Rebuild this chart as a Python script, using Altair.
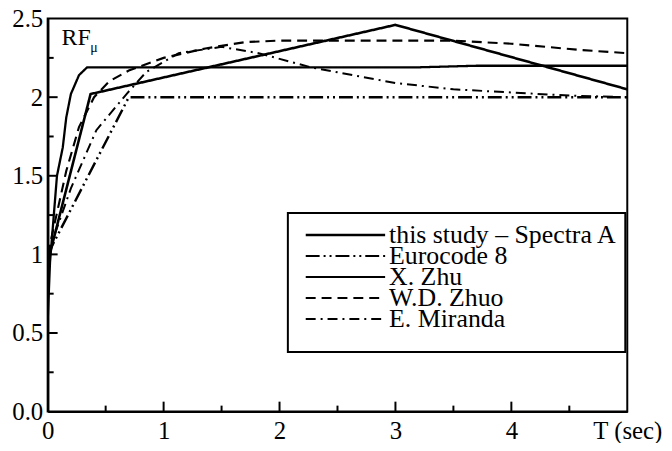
import altair as alt
import pandas as pd

# ---------------- data ----------------
series_names = ["this study \u2013 Spectra A", "Eurocode 8", "X. Zhu", "W.D. Zhuo", "E. Miranda"]

T_study = [0.0, 0.37, 3.0, 5.0]
RF_study = [0.95, 2.02, 2.46, 2.05]

T_ec8 = [0.0, 0.70, 5.0]
RF_ec8 = [1.0, 2.0, 2.0]

T_zhu = [0.0, 0.02, 0.08, 0.13, 0.16, 0.20, 0.27, 0.34, 3.2, 3.7, 5.0]
RF_zhu = [0.58, 0.95, 1.50, 1.68, 1.87, 2.02, 2.14, 2.19, 2.19, 2.20, 2.20]

T_zhuo = [0.0, 0.16, 0.27, 0.40, 0.53, 0.70, 1.0, 1.36, 1.70, 2.0, 3.5, 4.0, 4.6, 5.0]
RF_zhuo = [1.0, 1.53, 1.81, 2.0, 2.10, 2.17, 2.25, 2.31, 2.35, 2.36, 2.36, 2.34, 2.30, 2.28]

T_mir = [0.0, 0.20, 0.42, 0.68, 0.85, 1.13, 1.50, 1.82, 2.27, 3.0, 3.5, 4.0, 4.5, 5.0]
RF_mir = [1.0, 1.42, 1.79, 2.02, 2.16, 2.28, 2.32, 2.28, 2.19, 2.09, 2.05, 2.03, 2.01, 2.0]

x_major = [1, 2, 3, 4]
x_minor = [0.5, 1.5, 2.5, 3.5, 4.5]
y_major = [0.5, 1.0, 1.5, 2.0]
y_minor = [0.25, 0.75, 1.25, 1.75, 2.25]
x_labels = [0, 1, 2, 3, 4, 5]
y_labels = [0, 0.5, 1, 1.5, 2, 2.5]

# ---------------- styles ----------------
W, H = 584, 396
FONT = "Liberation Serif"
FS = 25
LFS = 26
dashes = [[1, 0], [14, 4, 2, 4, 2, 4], [1, 0], [10, 6], [10, 5, 2, 5]]
widths = [2.6, 2.0, 2.0, 2.0, 2.0]

rows = []
for name, ts, rs in zip(series_names,
                        [T_study, T_ec8, T_zhu, T_zhuo, T_mir],
                        [RF_study, RF_ec8, RF_zhu, RF_zhuo, RF_mir]):
    for i, (t, r) in enumerate(zip(ts, rs)):
        rows.append({"series": name, "T": t, "RF": r, "i": i})
df = pd.DataFrame(rows)

dash_scale = alt.Scale(domain=series_names, range=dashes)
width_scale = alt.Scale(domain=series_names, range=widths)

xscale = alt.Scale(domain=[0, 5], nice=False)
yscale = alt.Scale(domain=[0, 2.5], nice=False)

x_axis = alt.Axis(values=x_labels, ticks=False, grid=False, labelFlush=False,
                  labelExpr="datum.value == 5 ? 'T (sec)' : format(datum.value, '~g')",
                  labelFont=FONT, labelFontSize=FS, labelColor="black",
                  labelPadding=7, domainColor="black", domainWidth=2)
y_axis = alt.Axis(values=y_labels, ticks=False, grid=False,
                  labelExpr="datum.value == 0 ? '0.0' : format(datum.value, '~g')",
                  labelFont=FONT, labelFontSize=FS, labelColor="black",
                  labelPadding=5, domainColor="black", domainWidth=2.5)

lines = alt.Chart(df).mark_line(color="black", clip=True).encode(
    x=alt.X("T:Q", scale=xscale, title=None, axis=x_axis),
    y=alt.Y("RF:Q", scale=yscale, title=None, axis=y_axis),
    order="i:Q",
    detail="series:N",
    strokeDash=alt.StrokeDash("series:N", scale=dash_scale, legend=None),
    strokeWidth=alt.StrokeWidth("series:N", scale=width_scale, legend=None),
)

# inward axis ticks
xt = pd.DataFrame({"v": x_major + x_minor, "len": [10] * len(x_major) + [6] * len(x_minor)})
yt = pd.DataFrame({"v": y_major + y_minor, "len": [10] * len(y_major) + [6] * len(y_minor)})

xticks = alt.Chart(xt).mark_rule(color="black", strokeWidth=2).encode(
    x=alt.X("v:Q", scale=xscale, title=None, axis=x_axis),
    y=alt.value(H),
    y2=alt.value(H - 10),
).transform_filter("datum.len == 10")
xticks_minor = alt.Chart(xt).mark_rule(color="black", strokeWidth=2).encode(
    x=alt.X("v:Q", scale=xscale, title=None, axis=x_axis),
    y=alt.value(H),
    y2=alt.value(H - 6),
).transform_filter("datum.len == 6")
yticks = alt.Chart(yt).mark_rule(color="black", strokeWidth=2).encode(
    y=alt.Y("v:Q", scale=yscale, title=None, axis=y_axis),
    x=alt.value(0),
    x2=alt.value(10),
).transform_filter("datum.len == 10")
yticks_minor = alt.Chart(yt).mark_rule(color="black", strokeWidth=2).encode(
    y=alt.Y("v:Q", scale=yscale, title=None, axis=y_axis),
    x=alt.value(0),
    x2=alt.value(6),
).transform_filter("datum.len == 6")

# RF_mu label
one = pd.DataFrame({"a": [0]})
rf = alt.Chart(one).mark_text(
    font=FONT, fontSize=24, align="left", baseline="alphabetic", color="black").encode(
    text=alt.value("RF"), x=alt.value(14), y=alt.value(27))
mu = alt.Chart(one).mark_text(
    font=FONT, fontSize=14, align="left", baseline="alphabetic", color="black").encode(
    text=alt.value("\u03bc"), x=alt.value(43), y=alt.value(34))

# legend (drawn as marks)
leg_layers = [alt.Chart(one).mark_rect(fill="white", stroke="black", strokeWidth=2).encode(
    x=alt.value(242), x2=alt.value(582), y=alt.value(196), y2=alt.value(336))]
for k, name in enumerate(series_names):
    ly = 218 + 21.2 * k
    leg_layers.append(alt.Chart(one).mark_rule(color="black").encode(
        x=alt.value(260), x2=alt.value(340), y=alt.value(ly),
        strokeDash=alt.value(dashes[k]), strokeWidth=alt.value(widths[k])))
    leg_layers.append(alt.Chart(one).mark_text(
        font=FONT, fontSize=LFS, align="left", baseline="middle", color="black").encode(
        x=alt.value(344), y=alt.value(ly), text=alt.value(name)))

chart = alt.layer(
    lines, xticks, xticks_minor, yticks, yticks_minor, rf, mu, *leg_layers
).properties(
    width=W, height=H,
    autosize=alt.AutoSizeParams(type="none"),
    padding={"left": 40, "top": 9, "right": 37, "bottom": 30},
    background="white",
).configure_view(stroke="black", strokeWidth=2)

chart.save("out.html", embed_options={"renderer": "svg", "actions": False})
